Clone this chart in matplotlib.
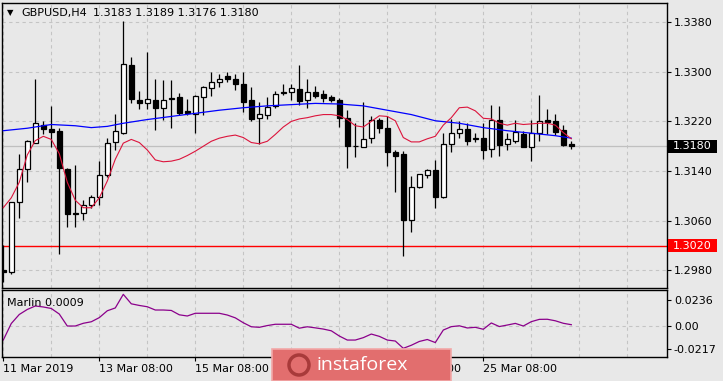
import numpy as np
import matplotlib
matplotlib.use("Agg")
import matplotlib.pyplot as plt
import matplotlib.transforms as mtrans
from matplotlib.patches import Rectangle, Ellipse

# GBPUSD H4 candles (bar index = position)
opens = [1.2981, 1.2978, 1.3090, 1.3144, 1.3186, 1.3214, 1.3208, 1.3204, 1.3144, 1.3073,
         1.3073, 1.3086, 1.3098, 1.3133, 1.3187, 1.3201, 1.3311, 1.3255, 1.3249, 1.3255,
         1.3242, 1.3256, 1.3259, 1.3236, 1.3232, 1.3259, 1.3273, 1.3283, 1.3293, 1.3288,
         1.3280, 1.3254, 1.3225, 1.3231, 1.3244, 1.3265, 1.3268, 1.3272, 1.3254, 1.3268,
         1.3264, 1.3259, 1.3255, 1.3225, 1.3181, 1.3178, 1.3193, 1.3222, 1.3210, 1.3171,
         1.3167, 1.3061, 1.3114, 1.3133, 1.3142, 1.3099, 1.3183, 1.3201, 1.3207, 1.3191,
         1.3194, 1.3175, 1.3222, 1.3183, 1.3189, 1.3200, 1.3178, 1.3201, 1.3222, 1.3220,
         1.3206, 1.3183]
highs = [1.3021, 1.3091, 1.3168, 1.3190, 1.3288, 1.3221, 1.3244, 1.3210, 1.3145, 1.3150,
         1.3093, 1.3101, 1.3157, 1.3194, 1.3232, 1.3381, 1.3324, 1.3269, 1.3331, 1.3288,
         1.3287, 1.3287, 1.3265, 1.3256, 1.3262, 1.3277, 1.3299, 1.3296, 1.3299, 1.3297,
         1.3299, 1.3275, 1.3251, 1.3259, 1.3269, 1.3280, 1.3281, 1.3311, 1.3288, 1.3277,
         1.3271, 1.3262, 1.3257, 1.3238, 1.3217, 1.3251, 1.3228, 1.3226, 1.3228, 1.3174,
         1.3172, 1.3132, 1.3136, 1.3143, 1.3158, 1.3202, 1.3224, 1.3221, 1.3217, 1.3201,
         1.3218, 1.3246, 1.3245, 1.3201, 1.3223, 1.3204, 1.3222, 1.3262, 1.3240, 1.3232,
         1.3214, 1.3189]
lows = [1.2962, 1.2974, 1.3065, 1.3123, 1.3185, 1.3200, 1.3179, 1.3006, 1.3050, 1.3050,
        1.3061, 1.3080, 1.3085, 1.3131, 1.3174, 1.3200, 1.3249, 1.3240, 1.3240, 1.3206,
        1.3222, 1.3210, 1.3230, 1.3230, 1.3202, 1.3230, 1.3261, 1.3275, 1.3284, 1.3271,
        1.3235, 1.3220, 1.3183, 1.3224, 1.3242, 1.3262, 1.3254, 1.3247, 1.3241, 1.3258,
        1.3251, 1.3252, 1.3211, 1.3145, 1.3163, 1.3178, 1.3185, 1.3202, 1.3149, 1.3106,
        1.3004, 1.3042, 1.3113, 1.3129, 1.3081, 1.3097, 1.3170, 1.3194, 1.3182, 1.3187,
        1.3159, 1.3162, 1.3165, 1.3174, 1.3185, 1.3178, 1.3157, 1.3188, 1.3199, 1.3198,
        1.3181, 1.3176]
closes = [1.2977, 1.3090, 1.3144, 1.3188, 1.3217, 1.3207, 1.3203, 1.3145, 1.3071, 1.3071,
          1.3086, 1.3099, 1.3133, 1.3186, 1.3204, 1.3312, 1.3256, 1.3250, 1.3256, 1.3242,
          1.3255, 1.3258, 1.3234, 1.3234, 1.3261, 1.3275, 1.3284, 1.3288, 1.3289, 1.3280,
          1.3252, 1.3224, 1.3232, 1.3243, 1.3264, 1.3268, 1.3274, 1.3253, 1.3268, 1.3261,
          1.3257, 1.3255, 1.3225, 1.3181, 1.3180, 1.3191, 1.3223, 1.3209, 1.3171, 1.3165,
          1.3061, 1.3114, 1.3135, 1.3142, 1.3099, 1.3183, 1.3201, 1.3207, 1.3189, 1.3194,
          1.3174, 1.3222, 1.3182, 1.3191, 1.3203, 1.3179, 1.3202, 1.3220, 1.3219, 1.3203,
          1.3182, 1.3180]

# slow moving average (blue), sampled points
blue_bars = [0, 3, 6, 9, 11, 13, 15, 18, 21, 24, 27, 30, 33, 36, 39, 42, 45, 48, 51, 54,
             57, 60, 63, 66, 69, 71]
blue_vals = [1.3205, 1.3209, 1.3215, 1.3213, 1.3210, 1.3212, 1.3217, 1.3223, 1.3228, 1.3233,
             1.3238, 1.3242, 1.3245, 1.3247, 1.3249, 1.3248, 1.3245, 1.3238, 1.3231, 1.3221,
             1.3217, 1.3210, 1.3205, 1.3201, 1.3197, 1.3193]

# fast smoothed average (red), one value per bar
red_vals = [1.3081, 1.3097, 1.3122, 1.3166, 1.3189, 1.3196, 1.3191, 1.3168, 1.3122, 1.3093,
            1.3081, 1.3081, 1.3097, 1.3124, 1.3159, 1.3185, 1.3191, 1.3186, 1.3174, 1.3158,
            1.3155, 1.3156, 1.3159, 1.3165, 1.3172, 1.3180, 1.3188, 1.3193, 1.3196, 1.3198,
            1.3194, 1.3186, 1.3184, 1.3188, 1.3199, 1.3211, 1.3220, 1.3224, 1.3226, 1.3229,
            1.3231, 1.3231, 1.3229, 1.3223, 1.3213, 1.3211, 1.3220, 1.3229, 1.3228, 1.3221,
            1.3194, 1.3187, 1.3187, 1.3192, 1.3196, 1.3214, 1.3226, 1.3242, 1.3243, 1.3237,
            1.3225, 1.3224, 1.3217, 1.3214, 1.3217, 1.3215, 1.3216, 1.3217, 1.3217, 1.3214,
            1.3202, 1.3192]

# Marlin oscillator, one value per bar
marlin = [-0.0132, 0.0020, 0.0103, 0.0149, 0.0181, 0.0172, 0.0158, 0.0107, -0.0003, -0.0003,
          0.0022, 0.0036, 0.0074, 0.0137, 0.0163, 0.0288, 0.0201, 0.0186, 0.0174, 0.0144,
          0.0144, 0.0140, 0.0100, 0.0089, 0.0114, 0.0114, 0.0114, 0.0114, 0.0098, 0.0072,
          0.0027, -0.0010, -0.0015, 0.0001, 0.0013, 0.0013, 0.0013, -0.0023, -0.0010, -0.0020,
          -0.0031, -0.0047, -0.0095, -0.0132, -0.0132, -0.0110, -0.0077, -0.0098, -0.0132, -0.0141,
          -0.0208, -0.0180, -0.0145, -0.0127, -0.0155, -0.0040, -0.0009, -0.0001, -0.0021, -0.0015,
          -0.0033, 0.0025, -0.0008, 0.0006, 0.0021, -0.0003, 0.0037, 0.0058, 0.0059, 0.0045,
          0.0022, 0.0009]

price_ticks = [1.2980, 1.3060, 1.3140, 1.3220, 1.3300, 1.3380]
marlin_ticks = [-0.0217, 0.0, 0.0236]
marlin_tick_labels = ["-0.0217", "0.00", "0.0236"]
time_tick_bars = [0, 12, 24, 36, 48, 60]
time_tick_labels = ["11 Mar 2019", "13 Mar 08:00", "15 Mar 08:00",
                    "19 Mar 08:00", "21 Mar 08:00", "25 Mar 08:00"]
level_line = 1.3020
last_price = 1.3180

BG = "#E8E8E8"
GRID = "#C4C4C4"
W, H = 723, 381


def fx(px):
    return px / W


def fy(py):
    return 1 - py / H


plt.rcParams["font.family"] = ["DejaVu Sans"]
plt.rcParams["font.size"] = 8

fig = plt.figure(figsize=(7.23, 3.81), dpi=100, facecolor=BG)
ax = fig.add_axes([fx(2), fy(288.3), fx(665), 285.6 / H], facecolor=BG)
ax2 = fig.add_axes([fx(2), fy(357), fx(665), 67 / H], facecolor=BG)

x = np.arange(len(opens))
o = np.array(opens)
c = np.array(closes)
hi = np.array(highs)
lo = np.array(lows)

# grid
for a in (ax, ax2):
    for gx in range(0, 84, 6):
        a.axvline(gx, color=GRID, lw=0.8, ls=(0, (3, 3)), zorder=0)
for gy in price_ticks:
    ax.axhline(gy, color=GRID, lw=0.8, ls=(0, (3, 3)), zorder=0)
ax2.axhline(0, color=GRID, lw=0.8, ls=(0, (3, 3)), zorder=0)

# current price line and level
ax.axhline(last_price, color="#C0C0C0", lw=0.9, zorder=1)
ax.axhline(level_line, color="#FF0000", lw=1.0, zorder=1)

# candles
ax.vlines(x, lo, hi, color="black", lw=0.9, zorder=3)
body_lo = np.minimum(o, c)
body_h = np.maximum(np.abs(c - o), 0.00008)
colors = ["white" if cc >= oo else "black" for oo, cc in zip(o, c)]
ax.bar(x, body_h, bottom=body_lo, width=0.62, color=colors, edgecolor="black",
       linewidth=0.9, zorder=4)

# moving averages
ax.plot(blue_bars, blue_vals, color="#0000FF", lw=0.9, zorder=5)
ax.plot(x, red_vals, color="#DC143C", lw=0.8, zorder=5)

ax.set_xlim(-0.16, 82.96)
ax.set_ylim(1.29513, 1.34111)
ax.yaxis.tick_right()
ax.set_yticks(price_ticks)
ax.set_yticklabels([f"{v:.4f}" for v in price_ticks])
ax.set_xticks([])
ax.tick_params(axis="y", length=3, width=0.8, pad=2, labelsize=8, colors="black")

# price boxes on the right scale
bt = mtrans.blended_transform_factory(ax.transAxes, ax.transData)
box_h = 13.4 * (1.34111 - 1.29513) / 285.6
for price, fc in ((last_price, "black"), (level_line, "#FF0000")):
    ax.add_patch(Rectangle((1.0015, price - box_h / 2), 49 / 665, box_h, transform=bt,
                           facecolor=fc, edgecolor="none", clip_on=False, zorder=6))
    ax.text(1.009, price, f"{price:.4f}", transform=bt, color="white", fontsize=8,
            va="center", ha="left", zorder=7, clip_on=False)

# Marlin panel
ax2.plot(x, marlin, color="#8B008B", lw=0.9)
ax2.set_xlim(-0.16, 82.96)
ax2.set_ylim(-0.02878, 0.03279)
ax2.yaxis.tick_right()
ax2.set_yticks(marlin_ticks)
ax2.set_yticklabels(marlin_tick_labels)
ax2.tick_params(axis="y", length=3, width=0.8, pad=2, labelsize=8)
ax2.set_xticks(time_tick_bars)
ax2.set_xticklabels(time_tick_labels, ha="left")
ax2.tick_params(axis="x", length=3, width=0.8, pad=2, labelsize=8)
ax2.text(0.008, 0.8, "Marlin 0.0009", transform=ax2.transAxes, fontsize=8,
         va="center", ha="left")

for a in (ax, ax2):
    for s in a.spines.values():
        s.set_color("black")
        s.set_linewidth(1.0)

# title line
fig.text(fx(7), fy(13), "\u25BC", fontsize=6, va="center", ha="left")
fig.text(fx(21), fy(13), "GBPUSD,H4", fontsize=8, va="center", ha="left")
fig.text(fx(93), fy(13), "1.3183 1.3189 1.3176 1.3180", fontsize=8, va="center", ha="left")

# instaforex badge (covers part of the time scale, as in the source)
fig.patches.append(Rectangle((fx(272), fy(381)), fx(179), 32 / H, transform=fig.transFigure,
                             facecolor="#E26E6E", edgecolor="#F2A8A8", lw=1.2, zorder=10))
fig.patches.append(Ellipse((fx(299), fy(365)), fx(20), 20 / H, transform=fig.transFigure,
                           facecolor="none", edgecolor="#A83A3A", lw=2.5, zorder=11))
fig.text(fx(362), fy(365), "instaforex", fontsize=14, color="white", ha="center",
         va="center", family=["Open Sans", "DejaVu Sans"], zorder=12)

fig.savefig("out.png", dpi=100, facecolor=BG)
